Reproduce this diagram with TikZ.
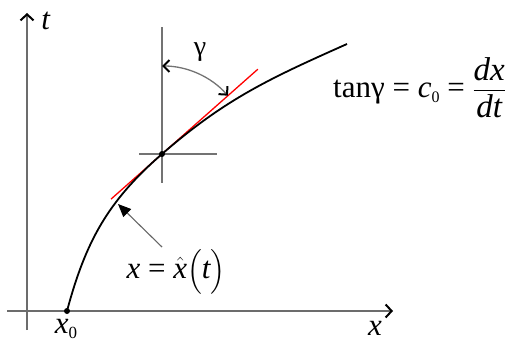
\documentclass[tikz,border=0pt]{standalone}
\usepackage{amsmath}
\usepackage{fontspec}
\setmainfont{Liberation Serif}
\usetikzlibrary{arrows.meta,calc}

\begin{document}
\begin{tikzpicture}[x=1pt,y=1pt,font=\fontsize{31}{36}\selectfont,
  axis/.style={draw=gray!85!black,line width=1.8pt},
  guide/.style={draw=gray!90!black,line width=1.3pt},
  barb/.tip={Straight Barb[color=black,length=6pt,width=13pt,line width=2pt]},
  smallbarb/.tip={Straight Barb[color=black,length=6pt,width=12pt,line width=2pt]}]
 \useasboundingbox (0,0) rectangle (513,341);
 % axes
 \coordinate (xs) at (7,30); \coordinate (xe) at (393,30);
 \coordinate (ts) at (27,11); \coordinate (te) at (27,328);
 \draw[axis,-{barb}] (xs)--(xe);
 \draw[axis,-{barb}] (ts)--(te);
 \node (xlab) at (375,13) {\textit{x}};
 \node (tlab) at (46,320) {\textit{t}};
 % curve and tangent
 \coordinate (x0) at (67,30); \coordinate (P) at (162,187); \coordinate (E) at (347,297);
 \draw[guide] ($(P)+(0,127)$)--($(P)+(0,-29)$) ($(P)+(-23,0)$)--($(P)+(55,0)$);
 \draw[red,line width=1.3pt] ($(P)+(221.5:68)$)--($(P)+(41.5:128)$);
 \draw[line width=1.8pt] (x0) to[out=75,in=221] (P) to[out=41,in=204] (E);
 \fill (x0) circle (3); \fill (P) circle (3);
 \node[anchor=base,inner sep=0] (x0lab) at (66,8) {\textit{x}{\fontsize{17}{17}\selectfont\raisebox{-5pt}{0}}};
 % angle
 \draw[guide,{smallbarb}-{smallbarb}] ($(P)+(90:88)$) arc[start angle=90,end angle=41.5,radius=88];
 \node[font=\fontsize{28}{30}\selectfont] (glab) at (200,289) {γ};
 % label with leader
 \node (xt) at (176,69) {\textit{x} = $\hat{\textit{x}}\Bigl(\textit{t}\Bigr)$};
 \coordinate (lead) at (162,94); \coordinate (tip) at (118,137);
 \draw[gray!80!black,line width=1.1pt,-{Triangle[color=black,length=13pt,width=11pt]}] (lead)--(tip);
 % formula
 \node[anchor=base west,inner sep=0] (eq) at (333,244) {tanγ = \textit{c}{\fontsize{16}{16}\selectfont\raisebox{-5pt}{0}} = \fontsize{33}{36}\selectfont$\dfrac{\textit{dx}}{\textit{dt}}$};
\end{tikzpicture}
\end{document}
